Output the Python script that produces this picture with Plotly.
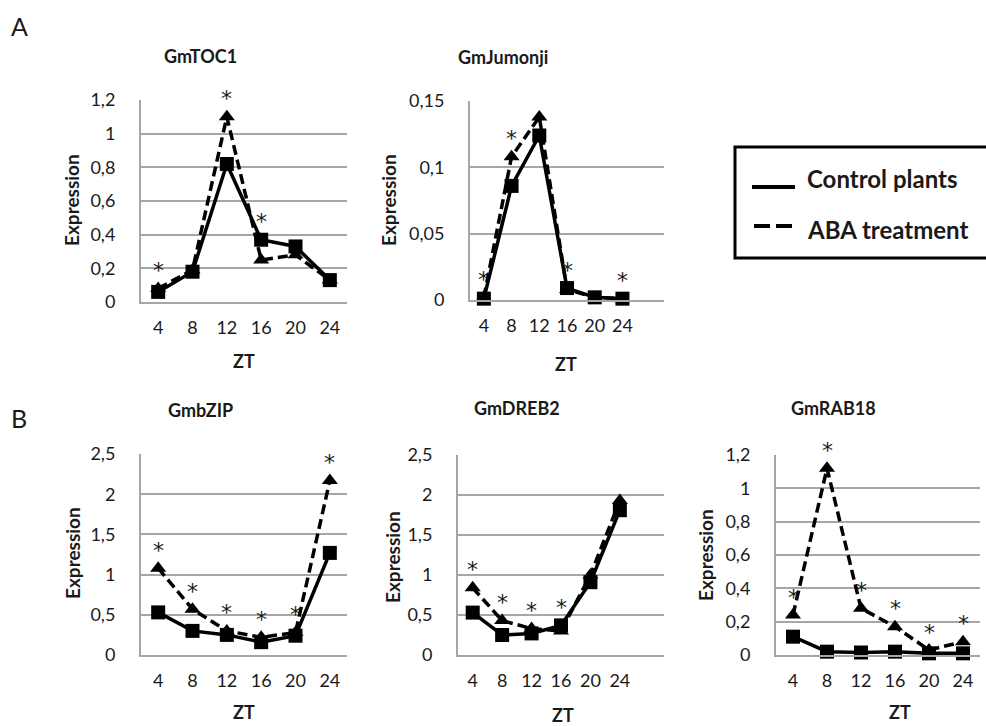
import plotly.graph_objects as go

W, H = 986, 726

# ---------------- data ----------------
zt_labels = ["4", "8", "12", "16", "20", "24"]
genes = ["GmTOC1", "GmJumonji", "GmbZIP", "GmDREB2", "GmRAB18"]
series_names = ["Control plants", "ABA treatment"]
panel_letters = ["A", "B"]
x_title = "ZT"
y_title = "Expression"

control_toc1 = [0.06, 0.18, 0.82, 0.37, 0.33, 0.13]
aba_toc1 = [0.08, 0.19, 1.10, 0.25, 0.28, 0.13]
sig_toc1 = [1, 0, 1, 1, 0, 0]

control_jmj = [0.001, 0.086, 0.124, 0.009, 0.002, 0.001]
aba_jmj = [0.002, 0.108, 0.138, 0.008, 0.002, 0.001]
sig_jmj = [1, 1, 0, 1, 0, 1]

control_bzip = [0.53, 0.30, 0.25, 0.16, 0.24, 1.27]
aba_bzip = [1.08, 0.57, 0.30, 0.22, 0.28, 2.17]
sig_bzip = [1, 1, 1, 1, 1, 1]

control_dreb2 = [0.53, 0.25, 0.27, 0.37, 0.91, 1.81]
aba_dreb2 = [0.84, 0.43, 0.33, 0.30, 1.00, 1.93]
sig_dreb2 = [1, 1, 1, 1, 0, 0]

control_rab18 = [0.11, 0.02, 0.015, 0.02, 0.01, 0.01]
aba_rab18 = [0.24, 1.12, 0.28, 0.17, 0.03, 0.08]
sig_rab18 = [1, 1, 1, 1, 1, 1]

yticks_toc1 = [0, 0.2, 0.4, 0.6, 0.8, 1.0, 1.2]
ylabels_toc1 = ["0", "0,2", "0,4", "0,6", "0,8", "1", "1,2"]
yticks_jmj = [0, 0.05, 0.10, 0.15]
ylabels_jmj = ["0", "0,05", "0,1", "0,15"]
yticks_25 = [0, 0.5, 1.0, 1.5, 2.0, 2.5]
ylabels_25 = ["0", "0,5", "1", "1,5", "2", "2,5"]

controls = [control_toc1, control_jmj, control_bzip, control_dreb2, control_rab18]
abas = [aba_toc1, aba_jmj, aba_bzip, aba_dreb2, aba_rab18]
sigs = [sig_toc1, sig_jmj, sig_bzip, sig_dreb2, sig_rab18]
ytick_sets = [(yticks_toc1, ylabels_toc1), (yticks_jmj, ylabels_jmj),
              (yticks_25, ylabels_25), (yticks_25, ylabels_25),
              (yticks_toc1, ylabels_toc1)]

# ---------------- layout (pixels) ----------------
boxes = [(141, 347, 100, 302), (470, 664, 101, 300), (141, 347, 454, 655),
         (458, 664, 455, 655), (776, 980, 455, 655)]
ncats = [6, 7, 6, 7, 6]
title_pos = [(200, 56), (503, 57), (200, 410), (517, 408), (833, 408)]
ylab_pos = [(71, 200), (388, 200), (72, 553), (392, 557), (705, 555)]
xlab_pos = [(244, 361), (566, 364), (244, 712), (563, 715), (900, 712)]
letter_pos = [(19, 26), (19, 418)]

FONT = "Lato"
GRID = "#a6a6a6"
TXT = "#1a1a1a"


def px(x):
    return x / W


def py(y):
    return 1 - y / H


def label(x, y, text, size, bold=False, anchor="center", angle=0, family=FONT):
    return dict(x=px(x), y=py(y), xref="paper", yref="paper",
                xanchor=anchor, yanchor="middle",
                text=("<b>%s</b>" % text) if bold else text,
                showarrow=False, textangle=angle,
                font=dict(size=size, family=family, color=TXT))


fig = go.Figure()
layout = dict(width=W, height=H, autosize=False,
              margin=dict(l=0, r=0, t=0, b=0, pad=0, autoexpand=False),
              paper_bgcolor="white", plot_bgcolor="white",
              showlegend=False, font=dict(family=FONT, color="black"))
annotations = []
xs = list(range(len(zt_labels)))

for i in range(5):
    n = "" if i == 0 else str(i + 1)
    xa, ya = "x" + n, "y" + n
    x0, x1, y0, y1 = boxes[i]
    tv, tt = ytick_sets[i]
    layout["xaxis" + n] = dict(
        domain=[px(x0), px(x1)], anchor=ya, range=[-0.5, ncats[i] - 0.5],
        tickmode="array", tickvals=xs, ticktext=zt_labels, automargin=False,
        showgrid=False, zeroline=False, showline=True, linecolor=GRID,
        linewidth=2, ticks="", ticklabelstandoff=8,
        tickfont=dict(size=18, family=FONT, color=TXT), fixedrange=True)
    layout["yaxis" + n] = dict(
        domain=[py(y1), py(y0)], anchor=xa, range=[0, tv[-1]],
        tickmode="array", tickvals=tv, ticktext=tt, automargin=False,
        showgrid=True, gridcolor=GRID, gridwidth=2, zeroline=False,
        showline=True, linecolor=GRID, linewidth=2, ticks="",
        ticklabelstandoff=20,
        tickfont=dict(size=18, family=FONT, color=TXT), fixedrange=True)

    fig.add_trace(go.Scatter(
        x=xs, y=abas[i], xaxis=xa, yaxis=ya, mode="lines+markers",
        name=series_names[1], cliponaxis=False,
        line=dict(color="black", width=3.5, dash="10px,5px"),
        marker=dict(symbol="triangle-up", size=14, color="black")))
    fig.add_trace(go.Scatter(
        x=xs, y=controls[i], xaxis=xa, yaxis=ya, mode="lines+markers",
        name=series_names[0], cliponaxis=False,
        line=dict(color="black", width=3.5),
        marker=dict(symbol="square", size=14, color="black")))

    for j, s in enumerate(sigs[i]):
        if s:
            annotations.append(dict(
                x=j, y=max(abas[i][j], controls[i][j]), xref=xa, yref=ya,
                xanchor="center", yanchor="middle",
                text="*", showarrow=False, yshift=18,
                font=dict(size=22, family="DejaVu Sans", color=TXT)))

    tx, ty = title_pos[i]
    annotations.append(label(tx, ty, genes[i], 18, bold=True))
    lx, ly = ylab_pos[i]
    annotations.append(label(lx, ly, y_title, 19, bold=True, angle=-90))
    zx, zy = xlab_pos[i]
    annotations.append(label(zx, zy, x_title, 18, bold=True))

for k, lt in enumerate(panel_letters):
    lx, ly = letter_pos[k]
    annotations.append(label(lx, ly, lt, 25))

# legend box drawn manually
shapes = [
    dict(type="rect", xref="paper", yref="paper", x0=px(735), x1=px(992),
         y0=py(258), y1=py(147), line=dict(color="black", width=3),
         fillcolor="rgba(0,0,0,0)"),
    dict(type="line", xref="paper", yref="paper", x0=px(752), x1=px(795),
         y0=py(187), y1=py(187), line=dict(color="black", width=4)),
    dict(type="line", xref="paper", yref="paper", x0=px(754), x1=px(793),
         y0=py(226), y1=py(226), line=dict(color="black", width=4,
                                           dash="16px,6px")),
]
annotations.append(label(805, 178, series_names[0], 24, bold=True, anchor="left"))
annotations.append(label(805, 229, series_names[1], 24, bold=True, anchor="left"))

layout["annotations"] = annotations
layout["shapes"] = shapes
fig.update_layout(**layout)
fig.write_html("out.html")
